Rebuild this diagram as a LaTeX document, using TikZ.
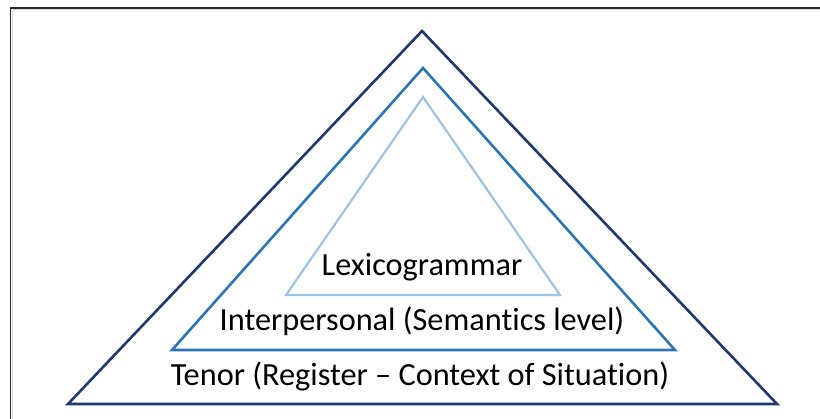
\documentclass[tikz,border=0pt]{standalone}
\usepackage{fontspec}
\setmainfont[RawFeature=-liga]{Carlito}
\definecolor{navy}{RGB}{31,56,110}
\definecolor{midblue}{RGB}{46,117,182}
\definecolor{paleblue}{RGB}{157,195,230}
\definecolor{framegray}{RGB}{40,40,40}
\begin{document}
\begin{tikzpicture}[x=1pt,y=-1pt,
  layer/.style={line width=2.6pt,line join=miter},
  label/.style={font=\fontsize{32.3}{34}\selectfont,inner sep=0pt,anchor=base}]
  \useasboundingbox (0,0) rectangle (820,419);
  \fill[white] (0,0) rectangle (820,419);
  % frame edges
  \draw[framegray,line width=2.4pt] (10.5,8) -- (820,8);
  \draw[framegray,line width=1.6pt] (10.5,7) -- (10.5,419);
  \draw[paleblue!50,line width=1pt] (12.5,10) -- (820,10);
  \draw[paleblue!50,line width=1pt] (12.5,10) -- (12.5,419);
  % nested triangles
  \draw[layer,navy] (422,31) -- (777,404) -- (68,404) -- cycle;
  \draw[layer,midblue] (423,68) -- (675,350) -- (172,350) -- cycle;
  \draw[layer,paleblue,line width=2.2pt] (423,97) -- (560,295) -- (286,295) -- cycle;
  % labels
  \node[label] (lex) at (422,276) {Lexicogrammar};
  \node[label] (inter) at (422,331) {Interpersonal (Semantics level)};
  \node[label] (tenor) at (420,386) {Tenor (Register – Context of Situation)};
\end{tikzpicture}
\end{document}
